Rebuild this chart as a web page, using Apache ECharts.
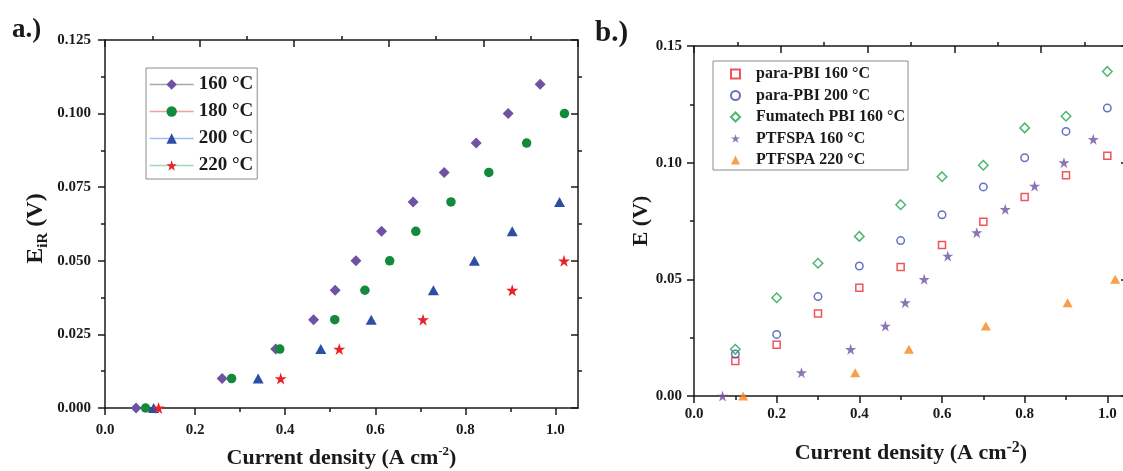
<!DOCTYPE html>
<html>
<head>
<meta charset="utf-8">
<script src="https://cdn.jsdelivr.net/npm/echarts@6/dist/echarts.min.js"></script>
<style>html,body{margin:0;padding:0;background:#fff}#c{width:1123px;height:471px}</style>
</head>
<body>
<div id="c"></div>
<script>
// ---------- Data: panel a (E_iR vs current density) ----------
const a160X = [0.069, 0.260, 0.379, 0.463, 0.511, 0.557, 0.614, 0.684, 0.753, 0.824, 0.895, 0.966];
const a160Y = [0, 0.01, 0.02, 0.03, 0.04, 0.05, 0.06, 0.07, 0.08, 0.09, 0.10, 0.11];
const a180X = [0.090, 0.281, 0.388, 0.510, 0.577, 0.632, 0.690, 0.768, 0.852, 0.936, 1.020];
const a180Y = [0, 0.01, 0.02, 0.03, 0.04, 0.05, 0.06, 0.07, 0.08, 0.09, 0.10];
const a200X = [0.108, 0.340, 0.479, 0.591, 0.729, 0.820, 0.904, 1.009];
const a200Y = [0, 0.01, 0.02, 0.03, 0.04, 0.05, 0.06, 0.07];
const a220X = [0.119, 0.390, 0.520, 0.706, 0.904, 1.019];
const a220Y = [0, 0.01, 0.02, 0.03, 0.04, 0.05];
const aNames = ['160 °C', '180 °C', '200 °C', '220 °C'];

// ---------- Data: panel b (E vs current density) ----------
const bCurrent = [0.1, 0.2, 0.3, 0.4, 0.5, 0.6, 0.7, 0.8, 0.9, 1.0];
const bPara160 = [0.015, 0.022, 0.0354, 0.0464, 0.0553, 0.0647, 0.0747, 0.0853, 0.0946, 0.103];
const bPara200 = [0.018, 0.0264, 0.0426, 0.0557, 0.0666, 0.0777, 0.0896, 0.1021, 0.1134, 0.1234];
const bFuma160 = [0.020, 0.0421, 0.0569, 0.0684, 0.082, 0.094, 0.0989, 0.1149, 0.1199, 0.1391];
const bPtf160X = [0.069, 0.260, 0.379, 0.463, 0.511, 0.557, 0.614, 0.684, 0.753, 0.824, 0.895, 0.966];
const bPtf160Y = [0, 0.01, 0.02, 0.03, 0.04, 0.05, 0.06, 0.07, 0.08, 0.09, 0.10, 0.11];
const bPtf220X = [0.119, 0.390, 0.520, 0.706, 0.904, 1.019];
const bPtf220Y = [0, 0.01, 0.02, 0.03, 0.04, 0.05];
const bNames = ['para-PBI 160 °C', 'para-PBI 200 °C', 'Fumatech PBI 160 °C', 'PTFSPA 160 °C', 'PTFSPA 220 °C'];

// ---------- Tick values ----------
const xMajorTicks = [0, 0.2, 0.4, 0.6, 0.8, 1.0];
const xMinorTicks = [0.1, 0.3, 0.5, 0.7, 0.9];

// ---------- Styles ----------
const FONT = '"Liberation Serif","Times New Roman",serif';
const INK = '#1a1a1a';
const STAR = 'path://M50,0 L61.8,35.4 L99,35.4 L68.8,57.3 L80.3,92.7 L50,70.8 L19.7,92.7 L31.2,57.3 L1,35.4 L38.2,35.4 Z';
const pairs = (xs, ys) => xs.map((x, i) => [x, ys[i]]);

const chart = echarts.init(document.getElementById('c'), null, {renderer: 'canvas'});

function bottomMain(grid, labelMargin, nameGap, supSize, supPad) {
  return {
    gridIndex: grid, type: 'value', position: 'bottom', min: 0, max: 1.05,
    axisLine: {show: true, onZero: false, lineStyle: {color: INK, width: 1.5}},
    axisTick: {show: true, customValues: xMajorTicks, length: 7, lineStyle: {color: INK, width: 1.5}},
    axisLabel: {show: true, customValues: xMajorTicks, margin: labelMargin, formatter: v => v.toFixed(1),
      fontFamily: FONT, fontWeight: 'bold', fontSize: 15, color: INK},
    splitLine: {show: false},
    name: '{m|Current density (A cm}{s|-2}{m|)}',
    nameLocation: 'middle', nameGap: nameGap,
    nameTextStyle: {rich: {
      m: {fontFamily: FONT, fontWeight: 'bold', fontSize: 22, lineHeight: 24, color: INK, verticalAlign: 'bottom'},
      s: {fontFamily: FONT, fontWeight: 'bold', fontSize: supSize, lineHeight: supSize, color: INK, verticalAlign: 'top', padding: [0, 0, supPad, 0]}
    }}
  };
}
function bottomMinor(grid) {
  return {
    gridIndex: grid, type: 'value', position: 'bottom', min: 0, max: 1.05,
    axisLine: {show: false, onZero: false},
    axisTick: {show: true, customValues: xMinorTicks, length: 4, lineStyle: {color: INK, width: 1.5}},
    axisLabel: {show: false}, splitLine: {show: false}
  };
}
function topAxis(grid) {
  return {
    gridIndex: grid, type: 'value', position: 'top', min: 0, max: 1, interval: 0.2,
    axisLine: {show: true, onZero: false, lineStyle: {color: INK, width: 1.5}},
    axisTick: {show: true, inside: true, length: 7, lineStyle: {color: INK, width: 1.5}},
    minorTick: {show: true, splitNumber: 2, length: -4, lineStyle: {color: INK, width: 1.5}},
    axisLabel: {show: false}, splitLine: {show: false}
  };
}
function yAxisOf(grid, pos, max, interval, digits, margin, name, nameGap, rich) {
  const inside = pos === 'right';
  const ax = {
    gridIndex: grid, type: 'value', position: pos, min: 0, max: max, interval: interval,
    axisLine: {show: true, onZero: false, lineStyle: {color: INK, width: 1.5}},
    axisTick: {show: true, inside: inside, length: 7, lineStyle: {color: INK, width: 1.5}},
    minorTick: {show: true, splitNumber: 2, length: inside ? -4 : 4, lineStyle: {color: INK, width: 1.5}},
    axisLabel: {show: !inside, margin: margin, formatter: v => v.toFixed(digits),
      fontFamily: FONT, fontWeight: 'bold', fontSize: 15, color: INK},
    splitLine: {show: false}
  };
  if (name) {
    ax.name = name; ax.nameLocation = 'middle'; ax.nameGap = nameGap;
    ax.nameTextStyle = {rich: rich};
  }
  return ax;
}

const aColors = ['#6f52a3', '#13893b', '#2c4fa3', '#ea2128'];
const aLegendLines = ['#a8a8a8', '#f4a0a0', '#9cbfec', '#a0d9b1'];
const aSymbols = ['diamond', 'circle', 'triangle', STAR];
const aSizes = [11, 9.5, [11, 10], 12];
const aData = [pairs(a160X, a160Y), pairs(a180X, a180Y), pairs(a200X, a200Y), pairs(a220X, a220Y)];

const bColors = ['#ea2a30', '#3f4fb2', '#22a24c', '#6f52a3', '#f7861d'];
const bSymbols = ['rect', 'circle', 'diamond', STAR, 'triangle'];
const bHollow = [true, true, true, false, false];
const bSizes = [7, 7.5, 9.5, 11, [10, 9]];
const bData = [pairs(bCurrent, bPara160), pairs(bCurrent, bPara200), pairs(bCurrent, bFuma160),
               pairs(bPtf160X, bPtf160Y), pairs(bPtf220X, bPtf220Y)];

const series = [];
aNames.forEach((n, i) => {
  series.push({
    type: 'line', name: n, xAxisIndex: 0, yAxisIndex: 0, data: aData[i],
    symbol: aSymbols[i], symbolSize: aSizes[i], showSymbol: true, showAllSymbol: true,
    lineStyle: {opacity: 0, color: aLegendLines[i]},
    itemStyle: {color: aColors[i], borderWidth: 0},
    emphasis: {disabled: true}, silent: true, z: 3
  });
});
bNames.forEach((n, i) => {
  series.push({
    type: 'scatter', name: n, xAxisIndex: 3, yAxisIndex: 2, data: bData[i],
    symbol: bSymbols[i], symbolSize: bSizes[i],
    itemStyle: bHollow[i]
      ? {color: 'rgba(255,255,255,0)', borderColor: bColors[i], borderWidth: 1.5}
      : {color: bColors[i], borderWidth: 0},
    emphasis: {disabled: true}, silent: true, z: 3
  });
});

const option = {
  animation: false,
  backgroundColor: '#fff',
  title: [
    {text: 'a.)', left: 7, top: 12, textStyle: {fontFamily: FONT, fontWeight: 'bold', fontSize: 27, color: INK}},
    {text: 'b.)', left: 590, top: 14, textStyle: {fontFamily: FONT, fontWeight: 'bold', fontSize: 29, color: INK}}
  ],
  grid: [
    {left: 105, top: 40, width: 473, height: 368, outerBoundsMode: 'none', containLabel: false},
    {left: 694, top: 46, width: 434, height: 350, outerBoundsMode: 'none', containLabel: false}
  ],
  xAxis: [
    bottomMain(0, 15, 37, 13, 13),
    bottomMinor(0),
    topAxis(0),
    bottomMain(1, 11, 44, 16, 17),
    bottomMinor(1),
    topAxis(1)
  ],
  yAxis: [
    yAxisOf(0, 'left', 0.125, 0.025, 3, 14, '{m|E}{s|iR}{v| (V)}', 54, {
      m: {fontFamily: FONT, fontWeight: 'bold', fontSize: 24, lineHeight: 27, color: INK, verticalAlign: 'top'},
      v: {fontFamily: FONT, fontWeight: 'bold', fontSize: 24, lineHeight: 27, color: INK, verticalAlign: 'top', padding: [0, 9, 0, 0]},
      s: {fontFamily: FONT, fontWeight: 'bold', fontSize: 15, lineHeight: 15, color: INK, verticalAlign: 'bottom', padding: [16, 0, 0, 0]}
    }),
    yAxisOf(0, 'right', 0.125, 0.025, 3, 14),
    yAxisOf(1, 'left', 0.15, 0.05, 2, 12, '{m|E (V)}', 41, {
      m: {fontFamily: FONT, fontWeight: 'bold', fontSize: 22, lineHeight: 24, color: INK}
    }),
    yAxisOf(1, 'right', 0.15, 0.05, 2, 12)
  ],
  legend: [
    {
      orient: 'vertical', left: 146, top: 68, selectedMode: false,
      itemWidth: 44, itemHeight: 13, itemGap: 8, padding: [7, 4, 4, 3],
      borderColor: '#8c8c8c', borderWidth: 1, borderRadius: 0,
      textStyle: {fontFamily: FONT, fontWeight: 'bold', fontSize: 19, color: INK},
      data: aNames.map((n, i) => ({name: n, lineStyle: {color: aLegendLines[i], width: 1.3, opacity: 1}}))
    },
    {
      orient: 'vertical', left: 713, top: 61, selectedMode: false,
      itemWidth: 9, itemHeight: 9, itemGap: 5.5, padding: [5, 3, 2, 17],
      borderColor: '#8c8c8c', borderWidth: 1, borderRadius: 0,
      formatter: name => '{t|' + name + '}',
      textStyle: {fontFamily: FONT, fontWeight: 'bold', fontSize: 16, color: INK,
        rich: {t: {fontFamily: FONT, fontWeight: 'bold', fontSize: 16, color: INK, padding: [0, 0, 0, 11]}}},
      data: bNames
    }
  ],
  series: series
};
chart.setOption(option);
</script>
</body>
</html>
